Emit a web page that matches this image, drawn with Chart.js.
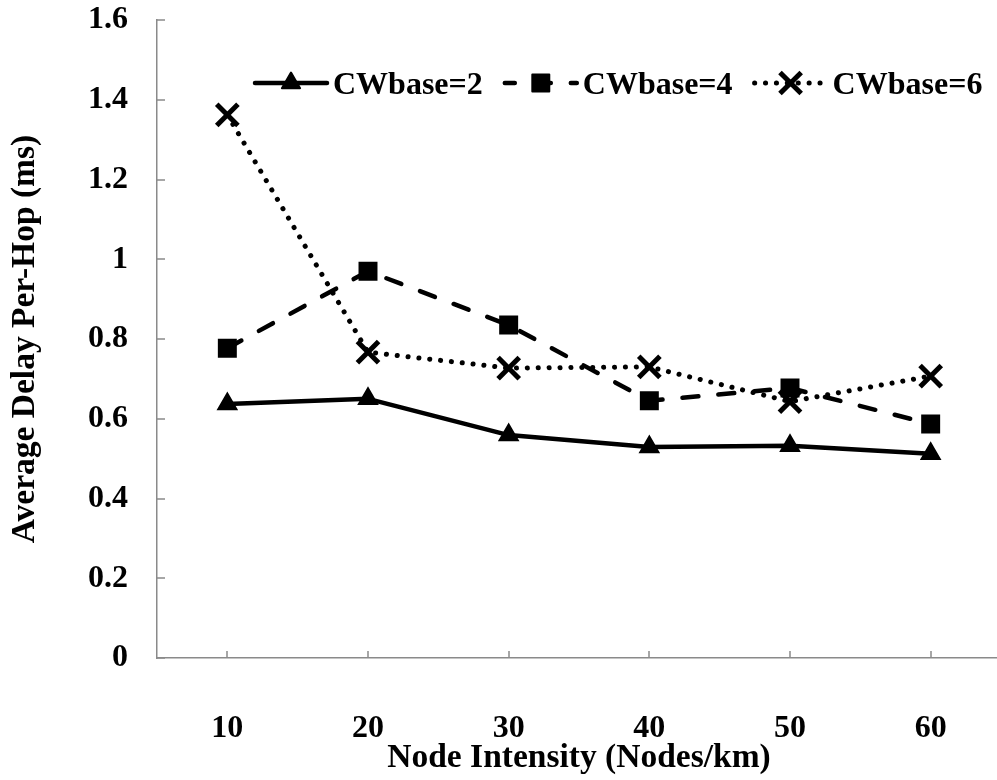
<!DOCTYPE html>
<html>
<head>
<meta charset="utf-8">
<script src="https://cdn.jsdelivr.net/npm/chart.js@4.4.1/dist/chart.umd.min.js"></script>
<style>
  html, body { margin: 0; padding: 0; background: #fff; }
  #wrap { width: 997px; height: 780px; overflow: hidden; position: relative; }
  canvas { display: block; }
</style>
</head>
<body>
<div id="wrap"><canvas id="c" width="1001" height="780"></canvas></div>
<script>
// ---- data ----
const categories = ['10', '20', '30', '40', '50', '60'];
const seriesNames = ['CWbase=2', 'CWbase=4', 'CWbase=6'];
const cw2 = [0.637, 0.650, 0.559, 0.529, 0.532, 0.512];
const cw4 = [0.777, 0.970, 0.835, 0.645, 0.677, 0.587];
const cw6 = [1.362, 0.767, 0.727, 0.730, 0.643, 0.707];
const yTicks = [0, 0.2, 0.4, 0.6, 0.8, 1, 1.2, 1.4, 1.6];
const xTitle = 'Node Intensity (Nodes/km)';
const yTitle = 'Average Delay Per-Hop (ms)';

const FONT = 'Liberation Serif';
const AXIS = '#8a8a8a';

Chart.defaults.font.family = FONT;
Chart.defaults.font.weight = 'bold';
Chart.defaults.font.size = 32;
Chart.defaults.color = '#000';

function zeroPad(s) { s.paddingTop = 0; s.paddingBottom = 0; s.paddingLeft = 0; s.paddingRight = 0; }

const inwardTicks = {
  id: 'inwardTicks',
  beforeDatasetsDraw(chart) {
    const ctx = chart.ctx, a = chart.chartArea;
    const xs = chart.scales.x, ys = chart.scales.y;
    ctx.save();
    ctx.strokeStyle = AXIS;
    ctx.lineWidth = 1.5;
    ctx.beginPath();
    ys.ticks.forEach((t, i) => {
      const y = Math.round(ys.getPixelForTick(i));
      ctx.moveTo(a.left, y); ctx.lineTo(a.left + 8, y);
    });
    xs.ticks.forEach((t, i) => {
      const x = Math.round(xs.getPixelForTick(i));
      ctx.moveTo(x, a.bottom); ctx.lineTo(x, a.bottom - 7);
    });
    ctx.stroke();
    ctx.restore();
  }
};

const lineLegend = {
  id: 'lineLegend',
  afterDraw(chart) {
    const ctx = chart.ctx;
    let x = 255;
    const yc = 83;
    ctx.save();
    ctx.font = 'bold 32px "' + FONT + '"';
    chart.data.datasets.forEach((ds) => {
      ctx.save();
      ctx.strokeStyle = ds.borderColor;
      ctx.lineWidth = ds.borderWidth;
      ctx.lineCap = ds.borderCapStyle || 'butt';
      ctx.setLineDash(ds.borderDash || []);
      ctx.lineDashOffset = ds.legendDashOffset || 0;
      ctx.beginPath();
      ctx.moveTo(x, yc); ctx.lineTo(x + 72, yc);
      ctx.stroke();
      ctx.restore();
      ctx.save();
      ctx.fillStyle = ds.pointBackgroundColor;
      ctx.strokeStyle = ds.pointBorderColor;
      ctx.lineWidth = ds.pointBorderWidth;
      ctx.lineJoin = 'round';
      ctx.setLineDash([]);
      Chart.helpers.drawPoint(ctx, {
        pointStyle: ds.pointStyle,
        radius: ds.pointRadius,
        borderWidth: ds.pointBorderWidth,
        rotation: 0
      }, x + 36, yc);
      ctx.restore();
      ctx.fillStyle = '#000';
      ctx.textBaseline = 'alphabetic';
      ctx.textAlign = 'left';
      ctx.fillText(ds.label, x + 78, yc + 11);
      x += 78 + ctx.measureText(ds.label).width + 22;
    });
    ctx.restore();
  }
};

new Chart(document.getElementById('c'), {
  type: 'line',
  data: {
    labels: categories,
    datasets: [
      {
        label: seriesNames[0], data: cw2,
        borderColor: '#000', backgroundColor: '#000', borderWidth: 4.5,
        pointStyle: 'triangle', pointRadius: 10.5, pointBorderWidth: 2,
        pointBackgroundColor: '#000', pointBorderColor: '#000',
        borderCapStyle: 'round', borderJoinStyle: 'round'
      },
      {
        label: seriesNames[1], data: cw4,
        borderColor: '#000', backgroundColor: '#000', borderWidth: 4.5,
        borderDash: [16, 20], borderCapStyle: 'round', borderJoinStyle: 'round',
        legendDashOffset: 6,
        pointStyle: 'rect', pointRadius: 12, pointBorderWidth: 2,
        pointBackgroundColor: '#000', pointBorderColor: '#000'
      },
      {
        label: seriesNames[2], data: cw6,
        borderColor: '#000', backgroundColor: '#000', borderWidth: 5,
        borderDash: [0.1, 10.8], borderCapStyle: 'round', borderJoinStyle: 'round',
        pointStyle: 'crossRot', pointRadius: 15, pointBorderWidth: 5,
        pointBackgroundColor: '#000', pointBorderColor: '#000'
      }
    ]
  },
  options: {
    responsive: false,
    animation: false,
    devicePixelRatio: 1,
    layout: { autoPadding: false, padding: { top: 20, right: 0, bottom: 0, left: 0 } },
    plugins: { legend: { display: false }, tooltip: { enabled: false } },
    elements: { line: { tension: 0 } },
    scales: {
      x: {
        type: 'category',
        offset: true,
        grid: { display: false, drawTicks: false, offset: false },
        border: { display: true, color: AXIS, width: 1.5 },
        ticks: { padding: 52, color: '#000', font: { family: FONT, weight: 'bold', size: 32 }, maxRotation: 0, autoSkip: false },
        title: { display: true, text: xTitle, color: '#000', font: { family: FONT, weight: 'bold', size: 33.5 }, padding: { top: 0, bottom: 2 } },
        afterFit(s) { s.height = 122; zeroPad(s); }
      },
      y: {
        min: 0, max: 1.6,
        afterBuildTicks(s) { s.ticks = yTicks.map(v => ({ value: v })); },
        grid: { display: false, drawTicks: false },
        border: { display: true, color: AXIS, width: 1.5 },
        ticks: { padding: 29, color: '#000', font: { family: FONT, weight: 'bold', size: 32 }, callback: v => String(+v.toFixed(1)) },
        title: { display: true, text: yTitle, color: '#000', font: { family: FONT, weight: 'bold', size: 33.5 }, padding: { top: 5, bottom: 0 } },
        afterFit(s) { s.width = 157; zeroPad(s); }
      }
    }
  },
  plugins: [inwardTicks, lineLegend]
});
</script>
</body>
</html>
